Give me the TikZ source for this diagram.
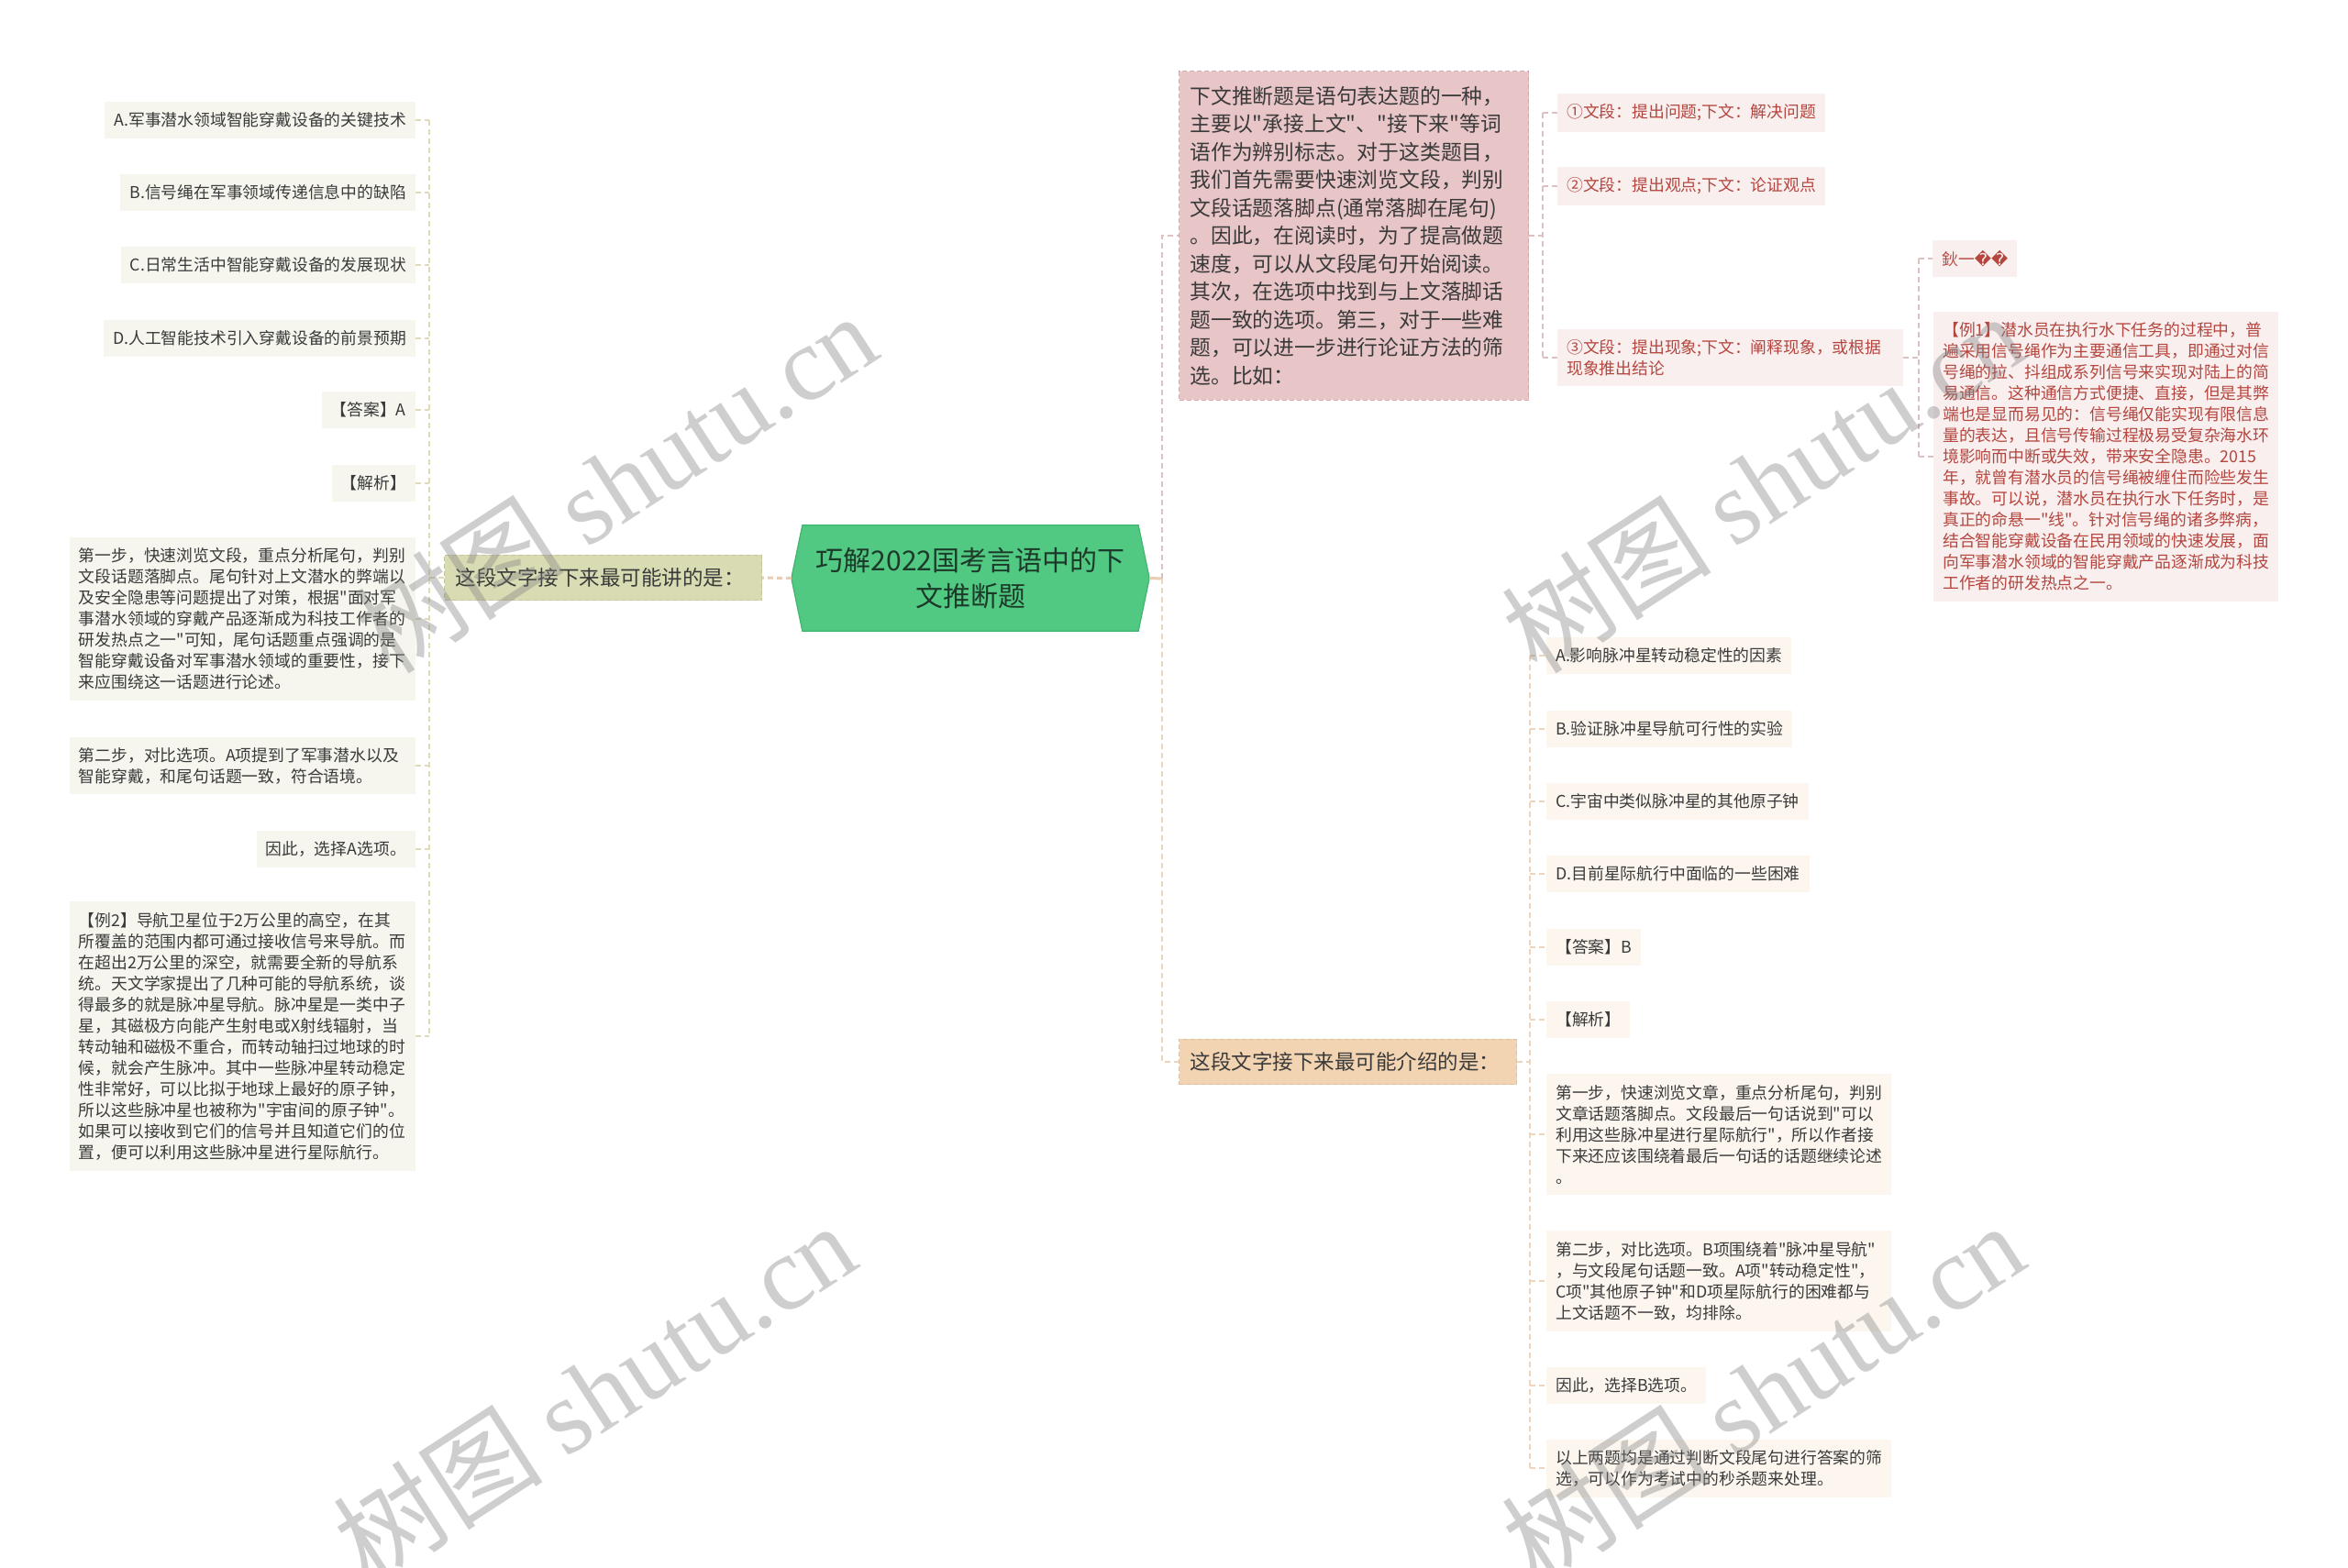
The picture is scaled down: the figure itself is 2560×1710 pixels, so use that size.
\documentclass[tikz,border=0pt]{standalone}
\usepackage{fontspec}
\setmainfont{Noto Sans CJK SC}
\newfontfamily\cjk{Noto Sans CJK SC}
\newfontfamily\wmserif{Liberation Serif}
\newfontfamily\repfont{DejaVu Sans}
\usetikzlibrary{backgrounds}
\definecolor{cfill}{HTML}{52C982}
\definecolor{cborder}{HTML}{43B571}
\definecolor{ctext}{HTML}{1C3A29}
\definecolor{lbfill}{HTML}{D9DBB3}
\definecolor{lbborder}{HTML}{C4C698}
\definecolor{leafl}{HTML}{F6F6EF}
\definecolor{tdark}{HTML}{3A3A3A}
\definecolor{lconnc}{HTML}{DEDBB6}
\definecolor{pfill}{HTML}{E8C5C6}
\definecolor{pborder}{HTML}{D6A9AC}
\definecolor{pleaf}{HTML}{F8EFEE}
\definecolor{ptext}{HTML}{B5463F}
\definecolor{pconnc}{HTML}{DDC0C2}
\definecolor{ofill}{HTML}{F2D4B3}
\definecolor{oborder}{HTML}{E4BE98}
\definecolor{oleaf}{HTML}{FCF6EF}
\definecolor{oconnc}{HTML}{EDD5BC}
\definecolor{tanc}{HTML}{E8CDB0}
\definecolor{wmc}{HTML}{808080}
\tikzset{
  conn/.style={line width=1.6pt, dash pattern=on 6pt off 4pt},
  lconn/.style={conn, draw=lconnc},
  pconn/.style={conn, draw=pconnc},
  oconn/.style={conn, draw=oconnc},
  leafbase/.style={inner xsep=10pt, inner ysep=11.5pt, font=\cjk\fontsize{17.8}{23}\selectfont, align=left},
  leafL/.style={leafbase, fill=leafl, text=tdark, anchor=east},
  leafP/.style={leafbase, fill=pleaf, text=ptext, anchor=west},
  leafO/.style={leafbase, fill=oleaf, text=tdark, anchor=west},
  branchbox/.style={inner xsep=12pt, inner ysep=14.5pt, font=\cjk\fontsize{22.5}{30}\selectfont, align=left, dash pattern=on 5pt off 3pt, line width=1pt},
  wm/.style={font=\cjk\fontsize{115}{115}\selectfont, text=wmc, text opacity=0.38, rotate=33}
}
\begin{document}
\begin{tikzpicture}[x=1pt,y=-1pt]
\useasboundingbox (0,0) rectangle (2560,1710);

% central node
\node[minimum width=366pt, minimum height=115pt, inner sep=0pt, align=center, text=ctext,
  font=\cjk\fontsize{30}{39}\selectfont] (c) at (1058,630.5) {巧解2022国考言语中的下\\文推断题};
\coordinate (cl) at ([xshift=-12pt]c.west);
\coordinate (cr) at ([xshift=12pt]c.east);
\begin{scope}[on background layer]
\fill[white] (0,0) rectangle (2560,1710);
\filldraw[fill=cfill, draw=cborder, line width=1.2pt] (c.north west) -- (c.north east) -- (cr) -- (c.south east) -- (c.south west) -- (cl) -- cycle;
\end{scope}

% left branch
\node[branchbox, fill=lbfill, draw=lbborder, text=tdark, text width=322pt, anchor=east] (lb) at (831,630) {这段文字接下来最可能讲的是：};

% left leaves
\node[leafL] (la) at (453,131) {A.军事潜水领域智能穿戴设备的关键技术};
\node[leafL] (lbb) at (453,210) {B.信号绳在军事领域传递信息中的缺陷};
\node[leafL] (lc) at (453,289) {C.日常生活中智能穿戴设备的发展现状};
\node[leafL] (ld) at (453,369) {D.人工智能技术引入穿戴设备的前景预期};
\node[leafL] (lans) at (453,447) {【答案】A};
\node[leafL] (lana) at (453,527) {【解析】};
\node[leafL, text width=357pt] (ls1) at (453,675) {第一步，快速浏览文段，重点分析尾句，判别\\文段话题落脚点。尾句针对上文潜水的弊端以\\及安全隐患等问题提出了对策，根据"面对军\\事潜水领域的穿戴产品逐渐成为科技工作者的\\研发热点之一"可知，尾句话题重点强调的是\\智能穿戴设备对军事潜水领域的重要性，接下\\来应围绕这一话题进行论述。};
\node[leafL, text width=357pt] (ls2) at (453,835) {第二步，对比选项。A项提到了军事潜水以及\\智能穿戴，和尾句话题一致，符合语境。};
\node[leafL] (ls3) at (453,926) {因此，选择A选项。};
\node[leafL, text width=357pt] (lex) at (453,1130) {【例2】导航卫星位于2万公里的高空，在其\\所覆盖的范围内都可通过接收信号来导航。而\\在超出2万公里的深空，就需要全新的导航系\\统。天文学家提出了几种可能的导航系统，谈\\得最多的就是脉冲星导航。脉冲星是一类中子\\星，其磁极方向能产生射电或X射线辐射，当\\转动轴和磁极不重合，而转动轴扫过地球的时\\候，就会产生脉冲。其中一些脉冲星转动稳定\\性非常好，可以比拟于地球上最好的原子钟，\\所以这些脉冲星也被称为"宇宙间的原子钟"。\\如果可以接收到它们的信号并且知道它们的位\\置，便可以利用这些脉冲星进行星际航行。};

% right upper branch (pink)
\node[branchbox, fill=pfill, draw=pborder, text=tdark, text width=357pt, anchor=west, inner ysep=16pt,
  font=\cjk\fontsize{22.8}{30.5}\selectfont] (rp) at (1285,257) {下文推断题是语句表达题的一种，\\主要以"承接上文"、"接下来"等词\\语作为辨别标志。对于这类题目，\\我们首先需要快速浏览文段，判别\\文段话题落脚点(通常落脚在尾句)\\。因此，在阅读时，为了提高做题\\速度，可以从文段尾句开始阅读。\\其次，在选项中找到与上文落脚话\\题一致的选项。第三，对于一些难\\题，可以进一步进行论证方法的筛\\选。比如：};

\node[leafP] (p1) at (1698,123) {①文段：提出问题;下文：解决问题};
\node[leafP] (p2) at (1698,203) {②文段：提出观点;下文：论证观点};
\node[leafP, text width=357pt] (p3) at (1698,390) {③文段：提出现象;下文：阐释现象，或根据\\现象推出结论};
\node[leafP] (q1) at (2107,282) {鈥一{\repfont\char"FFFD\char"FFFD}};
\node[leafP, text width=356pt] (q2) at (2108,498) {【例1】潜水员在执行水下任务的过程中，普\\遍采用信号绳作为主要通信工具，即通过对信\\号绳的拉、抖组成系列信号来实现对陆上的简\\易通信。这种通信方式便捷、直接，但是其弊\\端也是显而易见的：信号绳仅能实现有限信息\\量的表达，且信号传输过程极易受复杂海水环\\境影响而中断或失效，带来安全隐患。2015\\年，就曾有潜水员的信号绳被缠住而险些发生\\事故。可以说，潜水员在执行水下任务时，是\\真正的命悬一"线"。针对信号绳的诸多弊病，\\结合智能穿戴设备在民用领域的快速发展，面\\向军事潜水领域的智能穿戴产品逐渐成为科技\\工作者的研发热点之一。};

% right lower branch (orange)
\node[branchbox, fill=ofill, draw=oborder, text=tdark, text width=344pt, anchor=west] (ro) at (1285,1158) {这段文字接下来最可能介绍的是：};

\node[leafO] (ra) at (1686,715) {A.影响脉冲星转动稳定性的因素};
\node[leafO] (rb) at (1686,795) {B.验证脉冲星导航可行性的实验};
\node[leafO] (rc) at (1686,874) {C.宇宙中类似脉冲星的其他原子钟};
\node[leafO] (rd) at (1686,953) {D.目前星际航行中面临的一些困难};
\node[leafO] (rans) at (1686,1033) {【答案】B};
\node[leafO] (rana) at (1686,1112) {【解析】};
\node[leafO, text width=356pt] (rs1) at (1686,1237) {第一步，快速浏览文章，重点分析尾句，判别\\文章话题落脚点。文段最后一句话说到"可以\\利用这些脉冲星进行星际航行"，所以作者接\\下来还应该围绕着最后一句话的话题继续论述\\。};
\node[leafO, text width=356pt] (rs2) at (1686,1397) {第二步，对比选项。B项围绕着"脉冲星导航"\\，与文段尾句话题一致。A项"转动稳定性"，\\C项"其他原子钟"和D项星际航行的困难都与\\上文话题不一致，均排除。};
\node[leafO] (rs3) at (1686,1511) {因此，选择B选项。};
\node[leafO, text width=356pt] (rs4) at (1686,1601) {以上两题均是通过判断文段尾句进行答案的筛\\选，可以作为考试中的秒杀题来处理。};

% connectors: left
\draw[lconn, line width=3pt, draw=tanc] (cl) -- (lb.east);
\coordinate (lsp) at (468,630);
\draw[lconn] (lb.west) -- (lsp);
\draw[lconn] (lsp |- la.east) -- (lsp |- lex.east);
\foreach \n in {la,lbb,lc,ld,lans,lana,ls1,ls2,ls3,lex} {
  \draw[lconn] (\n.east) -- (lsp |- \n.east);
}

% connectors: right
\coordinate (rsp) at (1267,631);
\draw[line width=3pt, draw=tanc] (cr) -- (rsp);
\draw[pconn] (rsp) |- (rp.west);
\draw[oconn] (rsp) |- (ro.west);

\coordinate (psp) at (1682,257);
\draw[pconn] (rp.east) -- (psp);
\draw[pconn] (psp |- p1.west) -- (psp |- p3.west);
\foreach \n in {p1,p2,p3} {
  \draw[pconn] (psp |- \n.west) -- (\n.west);
}
\coordinate (qsp) at (2092,390);
\draw[pconn] (p3.east) -- (qsp);
\draw[pconn] (qsp |- q1.west) -- (qsp |- q2.west);
\foreach \n in {q1,q2} {
  \draw[pconn] (qsp |- \n.west) -- (\n.west);
}

\coordinate (osp) at (1668,1158);
\draw[oconn] (ro.east) -- (osp);
\draw[oconn] (osp |- ra.west) -- (osp |- rs4.west);
\foreach \n in {ra,rb,rc,rd,rans,rana,rs1,rs2,rs3,rs4} {
  \draw[oconn] (osp |- \n.west) -- (\n.west);
}

% watermarks
\node[wm] (wm1) at (671,526) {树图 {\wmserif shutu.cn}};
\node[wm] (wm2) at (648,1518) {树图 {\wmserif shutu.cn}};
\node[wm] (wm3) at (1922,526) {树图 {\wmserif shutu.cn}};
\node[wm] (wm4) at (1922,1518) {树图 {\wmserif shutu.cn}};
\end{tikzpicture}
\end{document}
